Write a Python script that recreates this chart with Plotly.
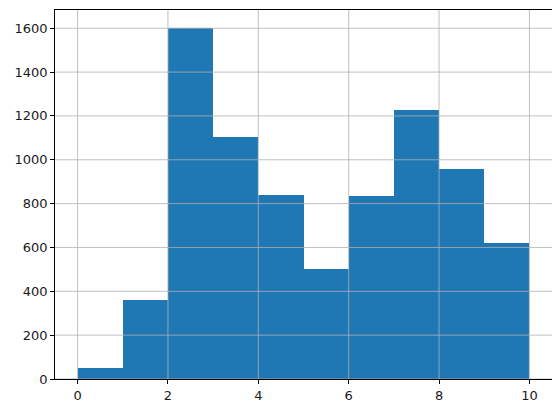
import plotly.graph_objects as go

# histogram data
bin_edges = [0, 1, 2, 3, 4, 5, 6, 7, 8, 9, 10]
counts = [51, 361, 1603, 1104, 840, 503, 835, 1227, 958, 621]

x_ticks = [0, 2, 4, 6, 8, 10]
y_ticks = [0, 200, 400, 600, 800, 1000, 1200, 1400, 1600]

centers = [(a + b) / 2 for a, b in zip(bin_edges[:-1], bin_edges[1:])]
widths = [b - a for a, b in zip(bin_edges[:-1], bin_edges[1:])]

span = bin_edges[-1] - bin_edges[0]
x_range = [bin_edges[0] - 0.05 * span, bin_edges[-1] + 0.05 * span]
y_range = [0, 1.05 * max(counts)]

fig = go.Figure()

fig.add_trace(
    go.Bar(
        x=centers,
        y=counts,
        width=widths,
        marker=dict(color='#1f77b4', line=dict(width=0)),
        showlegend=False,
    )
)

# grid drawn on top of the bars, like matplotlib's hist + grid
grid = dict(color='#b0b0b0', width=0.8)
for xv in x_ticks:
    fig.add_shape(type='line', xref='x', yref='paper', x0=xv, x1=xv, y0=0, y1=1,
                  line=grid, layer='above')
for yv in y_ticks:
    fig.add_shape(type='line', xref='paper', yref='y', x0=0, x1=1, y0=yv, y1=yv,
                  line=grid, layer='above')

axis_style = dict(
    showgrid=False,
    zeroline=False,
    showline=True,
    linecolor='black',
    linewidth=0.8,
    mirror=True,
    ticks='outside',
    ticklen=4,
    tickwidth=0.8,
    tickcolor='black',
    tickfont=dict(family='DejaVu Sans', size=13, color='#1a1a1a'),
)

fig.update_xaxes(range=x_range, tickvals=x_ticks, **axis_style)
fig.update_yaxes(range=y_range, tickvals=y_ticks, **axis_style)

# page body has an 8px margin, so the figure is a bit smaller than the window
fig.update_layout(
    width=552,
    height=405,
    margin=dict(l=47, r=8, t=2, b=34),
    plot_bgcolor='white',
    paper_bgcolor='white',
    bargap=0,
)

fig.write_html("out.html")
